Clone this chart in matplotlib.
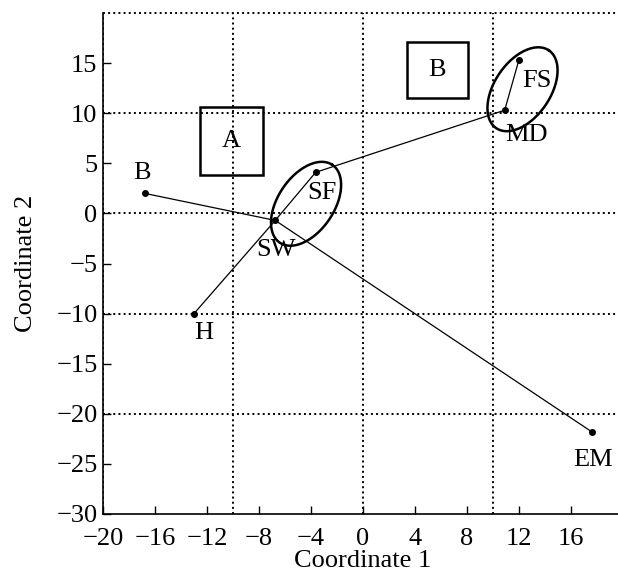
import matplotlib
matplotlib.use("Agg")
import matplotlib.pyplot as plt
import numpy as np
from matplotlib.patches import Rectangle

plt.rcParams['font.family'] = ['Liberation Serif', 'DejaVu Serif']
plt.rcParams['font.size'] = 19

# group coordinates
names = ['B', 'H', 'SW', 'SF', 'MD', 'FS', 'EM']
coord1 = [-16.8, -13.0, -6.75, -3.64, 10.9, 12.0, 17.6]
coord2 = [2.0, -10.0, -0.7, 4.1, 10.3, 15.35, -21.8]
# label offsets in pixels
label_dx = [-3, 10, 1, 6, 22, 18, 1]
label_dy = [20, -19, -30, -21, -25, -21, -28]

# links between groups
links = [('B', 'SW'), ('SW', 'EM'), ('H', 'SW'), ('SW', 'SF'),
         ('SF', 'MD'), ('MD', 'FS')]

# cluster boxes: (label, x0, x1, y0, y1)
boxes = [('A', -12.54, -7.67, 3.82, 10.57),
         ('B', 3.36, 8.05, 11.47, 17.1)]

# ellipses: centre + semi-axes in pixels and angle
ell_centres = [(-4.38, 0.96), (12.27, 12.39)]
ell_a, ell_b, ell_ang = 47, 28, 56

px_x, px_y = 13.0, 10.03   # pixels per data unit

fig = plt.figure(figsize=(6.18, 5.75), dpi=100)
ax = fig.add_axes([103 / 618, 61 / 575, 520 / 618, 501 / 575])
ax.set_xlim(-20, 20)
ax.set_ylim(-30, 20)

# dotted grid
for gx in [-10, 0, 10]:
    ax.axvline(gx, color='k', ls=':', lw=1.4, zorder=1)
for gy in [-20, -10, 0, 10, 20]:
    ax.axhline(gy, color='k', ls=':', lw=1.4, zorder=1, clip_on=False)
ax.axvline(-20, color='k', ls=':', lw=1.4, zorder=1)

idx = {n: i for i, n in enumerate(names)}
for a, b in links:
    ax.plot([coord1[idx[a]], coord1[idx[b]]], [coord2[idx[a]], coord2[idx[b]]],
            color='k', lw=0.9, zorder=3)
ax.plot(coord1, coord2, 'o', color='k', ms=4, zorder=4)

for n, x, y, dx, dy in zip(names, coord1, coord2, label_dx, label_dy):
    ax.annotate(n, (x, y), xytext=(dx, dy), textcoords='offset pixels',
                ha='center', va='center', fontsize=19)

for lab, x0, x1, y0, y1 in boxes:
    ax.add_patch(Rectangle((x0, y0), x1 - x0, y1 - y0, fill=False,
                           ec='k', lw=1.8, zorder=3))
    ax.text((x0 + x1) / 2, (y0 + y1) / 2, lab, ha='center', va='center',
            fontsize=19)

t = np.linspace(0, 2 * np.pi, 200)
th = np.deg2rad(ell_ang)
u = np.array([ell_a * np.cos(th) / px_x, ell_a * np.sin(th) / px_y])
v = np.array([-ell_b * np.sin(th) / px_x, ell_b * np.cos(th) / px_y])
for cx, cy in ell_centres:
    ax.plot(cx + np.cos(t) * u[0] + np.sin(t) * v[0],
            cy + np.cos(t) * u[1] + np.sin(t) * v[1],
            color='k', lw=1.8, zorder=3)

ax.set_xticks(np.arange(-20, 17, 4))
ax.set_yticks(np.arange(-30, 16, 5))
ax.tick_params(direction='in', length=6, width=1, top=False, right=False,
               labelsize=19)
ax.tick_params(axis='x', pad=10)
ax.tick_params(axis='y', pad=4)
ax.spines['top'].set_visible(False)
ax.spines['right'].set_visible(False)
ax.spines['left'].set_linewidth(1.2)
ax.spines['bottom'].set_linewidth(1.2)

ax.set_xlabel('Coordinate 1', fontsize=19, labelpad=0)
ax.set_ylabel('Coordinate 2', fontsize=19, labelpad=14)

fig.savefig('out.png', dpi=100)
